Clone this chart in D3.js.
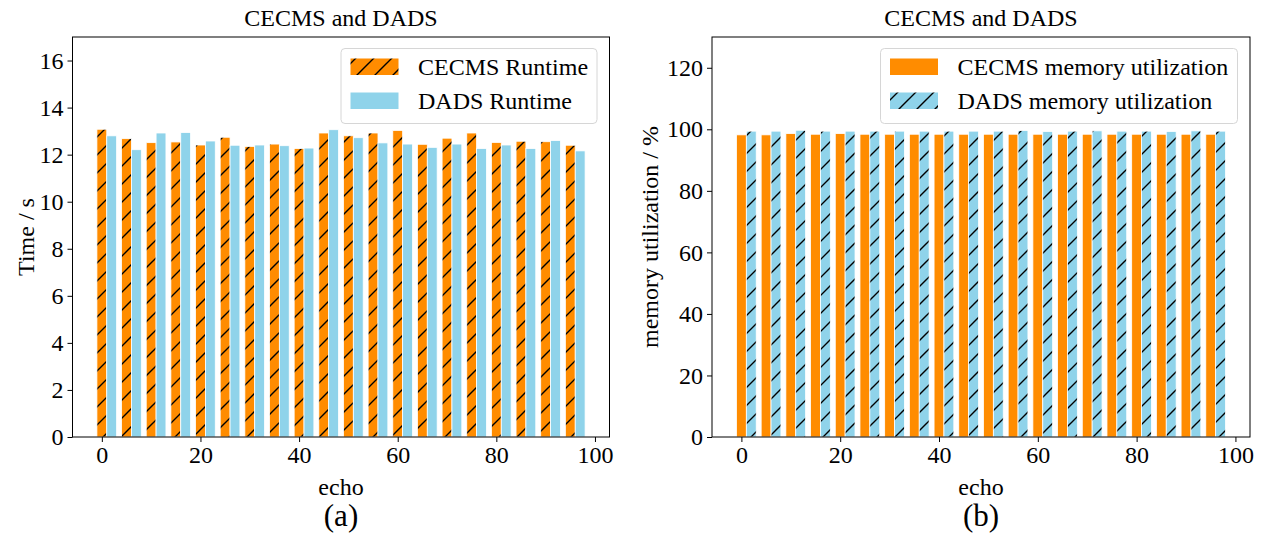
<!DOCTYPE html>
<html>
<head>
<meta charset="utf-8">
<script src="https://cdn.jsdelivr.net/npm/d3@7"></script>
<style>
  body { margin: 0; background: #fff; }
  svg { display: block; font-family: "Liberation Serif", "DejaVu Serif", serif; }
</style>
</head>
<body>
<svg id="chart" width="1261" height="533"></svg>
<script>
// echo positions of each bar group
const echo = [0, 5, 10, 15, 20, 25, 30, 35, 40, 45, 50, 55, 60, 65, 70, 75, 80, 85, 90, 95];

// (a) runtime, seconds
const runtimeCECMS = [13.08, 12.68, 12.51, 12.54, 12.41, 12.74, 12.35, 12.45, 12.26, 12.92,
                      12.80, 12.92, 13.03, 12.44, 12.70, 12.92, 12.52, 12.57, 12.55, 12.40];
const runtimeDADS  = [12.80, 12.21, 12.92, 12.94, 12.58, 12.40, 12.41, 12.38, 12.28, 13.06,
                      12.72, 12.50, 12.45, 12.31, 12.45, 12.26, 12.41, 12.26, 12.60, 12.16];

// (b) memory utilization, %
const memCECMS = [98.2, 98.2, 98.6, 98.4, 98.6, 98.4, 98.4, 98.4, 98.4, 98.4,
                  98.4, 98.4, 98.4, 98.4, 98.4, 98.4, 98.4, 98.4, 98.4, 98.4];
const memDADS  = [99.4, 99.4, 99.7, 99.4, 99.4, 99.4, 99.4, 99.4, 99.4, 99.4,
                  99.4, 99.6, 99.3, 99.4, 99.5, 99.4, 99.4, 99.3, 99.5, 99.4];

const xTicks = [0, 20, 40, 60, 80, 100];
const yTicksA = [0, 2, 4, 6, 8, 10, 12, 14, 16];
const yTicksB = [0, 20, 40, 60, 80, 100, 120];

const ORANGE = '#ff8c00';
const BLUE = '#8fd3ea';
const barW = 2;
const FS = '24px';

const svg = d3.select('#chart');
const defs = svg.append('defs');

// hatch "/" patterns
function hatch(id, color) {
  const p = defs.append('pattern')
    .attr('id', id)
    .attr('patternUnits', 'userSpaceOnUse')
    .attr('width', 18).attr('height', 18);
  p.append('rect').attr('width', 18).attr('height', 18).attr('fill', color);
  p.append('path')
    .attr('d', 'M0,18L18,0M-9,9L9,-9M9,27L27,9')
    .attr('stroke', '#000').attr('stroke-width', 1.4);
}
hatch('hatchOrange', ORANGE);
hatch('hatchBlue', BLUE);

function drawPanel(opt) {
  const left = opt.left, right = opt.right, top = 37, bottom = 437;
  const x = d3.scaleLinear().domain([-5.95, 102.95]).range([left, right]);
  const y = d3.scaleLinear().domain(opt.yDomain).range([bottom, top]);
  const g = svg.append('g');

  // bars
  const series = [
    { vals: opt.s1, off: 0, fill: opt.fill1 },
    { vals: opt.s2, off: barW, fill: opt.fill2 }
  ];
  series.forEach(s => {
    g.selectAll(null)
      .data(echo)
      .enter().append('rect')
      .attr('x', (d) => x(d + s.off - barW / 2))
      .attr('width', (d) => x(d + s.off + barW / 2) - x(d + s.off - barW / 2))
      .attr('y', (d, i) => y(s.vals[i]))
      .attr('height', (d, i) => bottom - y(s.vals[i]))
      .attr('fill', s.fill)
      .attr('stroke', '#fff')
      .attr('stroke-width', 0.8);
  });

  // axes
  const xAxis = d3.axisBottom(x).tickValues(xTicks).tickSize(5).tickSizeOuter(0).tickPadding(4);
  const yAxis = d3.axisLeft(y).tickValues(opt.yTicks).tickSize(5).tickSizeOuter(0).tickPadding(4);

  g.append('g')
    .attr('class', 'x axis')
    .attr('transform', 'translate(0,' + bottom + ')')
    .call(xAxis);
  g.append('g')
    .attr('class', 'y axis')
    .attr('transform', 'translate(' + left + ',0)')
    .call(yAxis);

  g.selectAll('.axis .domain').remove();
  g.selectAll('.axis .tick line').attr('stroke', '#000').attr('stroke-width', 1);
  g.selectAll('.axis .tick text')
    .attr('fill', '#000')
    .style('font-family', '"Liberation Serif", serif')
    .style('font-size', FS);

  // frame
  g.append('rect')
    .attr('x', left).attr('y', top)
    .attr('width', right - left).attr('height', bottom - top)
    .attr('fill', 'none').attr('stroke', '#000').attr('stroke-width', 1);

  const cx = (left + right) / 2;
  g.append('text')
    .attr('x', cx).attr('y', 26)
    .attr('text-anchor', 'middle')
    .style('font-size', FS)
    .text(opt.title);
  g.append('text')
    .attr('x', cx).attr('y', 495)
    .attr('text-anchor', 'middle')
    .style('font-size', FS)
    .text('echo');
  g.append('text')
    .attr('x', cx).attr('y', 526)
    .attr('text-anchor', 'middle')
    .style('font-size', '31px')
    .text(opt.tag);
  g.append('text')
    .attr('transform', 'translate(' + opt.ylabelX + ',' + (top + bottom) / 2 + ') rotate(-90)')
    .attr('text-anchor', 'middle')
    .style('font-size', FS)
    .text(opt.ylabel);

  // legend
  const lg = g.append('g');
  lg.append('rect')
    .attr('x', opt.legX).attr('y', 48.5)
    .attr('width', opt.legW).attr('height', 75)
    .attr('rx', 4)
    .attr('fill', '#fff').attr('fill-opacity', 0.8)
    .attr('stroke', '#d6d6d6').attr('stroke-width', 1);
  opt.legend.forEach((item, i) => {
    const yy = 58.5 + i * 34;
    lg.append('rect')
      .attr('x', opt.legX + 9.5).attr('y', yy)
      .attr('width', 48).attr('height', 16.5)
      .attr('fill', item.fill);
    lg.append('text')
      .attr('x', opt.legX + 77).attr('y', yy + 16.5)
      .style('font-size', FS)
      .text(item.label);
  });
}

drawPanel({
  left: 72.5, right: 609.5,
  yDomain: [0, 17], yTicks: yTicksA,
  s1: runtimeCECMS, s2: runtimeDADS,
  fill1: 'url(#hatchOrange)', fill2: BLUE,
  title: 'CECMS and DADS', tag: '(a)', ylabel: 'Time / s', ylabelX: 34,
  legX: 341, legW: 256,
  legend: [
    { label: 'CECMS Runtime', fill: 'url(#hatchOrange)' },
    { label: 'DADS Runtime', fill: BLUE }
  ]
});

drawPanel({
  left: 712, right: 1250,
  yDomain: [0, 130], yTicks: yTicksB,
  s1: memCECMS, s2: memDADS,
  fill1: ORANGE, fill2: 'url(#hatchBlue)',
  title: 'CECMS and DADS', tag: '(b)', ylabel: 'memory utilization / %', ylabelX: 658,
  legX: 880.5, legW: 357,
  legend: [
    { label: 'CECMS memory utilization', fill: ORANGE },
    { label: 'DADS memory utilization', fill: 'url(#hatchBlue)' }
  ]
});
</script>
</body>
</html>
